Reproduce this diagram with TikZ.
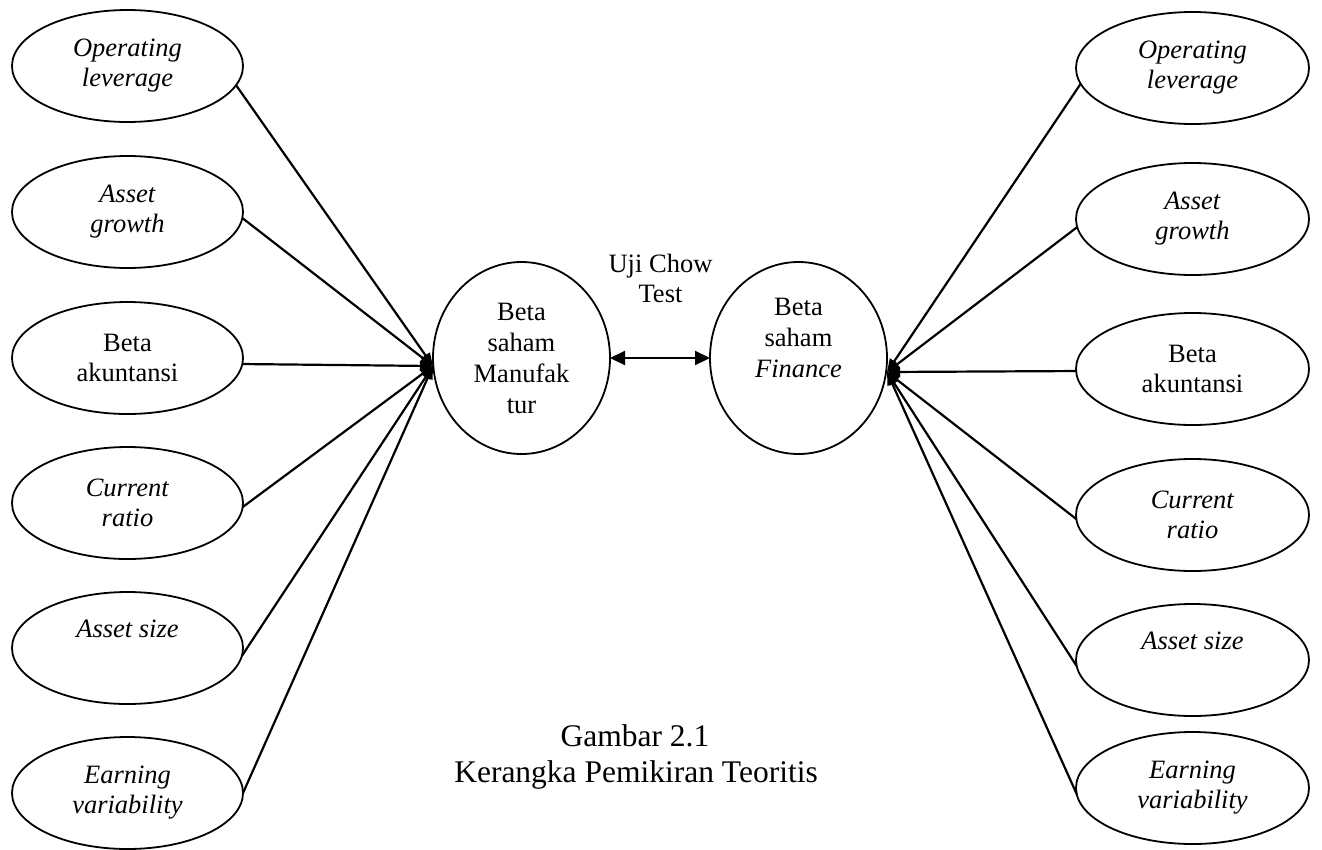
\documentclass[tikz,border=0pt]{standalone}
\usepackage{fontspec}
\setmainfont{Liberation Serif}
\usetikzlibrary{shapes.geometric,arrows.meta}
\begin{document}
\begin{tikzpicture}[x=1pt,y=-1pt,
  every node/.style={inner sep=0pt,outer sep=0pt},
  var/.style={draw,line width=1.8pt,ellipse,minimum width=231pt,minimum height=112pt,align=center,font=\fontsize{26.5}{30}\selectfont},
  mid/.style={draw,line width=1.8pt,ellipse,minimum width=177pt,minimum height=192pt,align=center,font=\fontsize{26.5}{31}\selectfont},
  lbl/.style={align=center,font=\fontsize{26.5}{30}\selectfont},
  conn/.style={line width=2.2pt,-{Triangle[length=13pt,width=10pt]}},
  dbl/.style={line width=2.2pt,{Triangle[length=15pt,width=14pt]}-{Triangle[length=15pt,width=14pt]}}]
\useasboundingbox (0,0) rectangle (1322,849);
% left column
\node[var] (lop) at (127.5,66) {\textit{Operating}\\\textit{leverage}};
\node[var] (lag) at (127.5,212) {\textit{Asset}\\\textit{growth}};
\node[var] (lba) at (127.5,358) {Beta\\akuntansi};
\node[var] (lcr) at (127.5,503) {\textit{Current}\\\textit{ratio}};
\node[var] (las) at (127.5,648) {\textit{Asset size}\\\strut};
\node[var] (lev) at (127.5,793) {\textit{Earning}\\\textit{variability}};
% right column
\node[var,minimum width=233pt] (rop) at (1192.5,68) {\textit{Operating}\\\textit{leverage}};
\node[var,minimum width=233pt] (rag) at (1192.5,219) {\textit{Asset}\\\textit{growth}};
\node[var,minimum width=233pt] (rba) at (1192.5,369) {Beta\\akuntansi};
\node[var,minimum width=233pt] (rcr) at (1192.5,515) {\textit{Current}\\\textit{ratio}};
\node[var,minimum width=233pt] (ras) at (1192.5,660) {\textit{Asset size}\\\strut};
\node[var,minimum width=233pt] (rev) at (1192.5,788) {\textit{Earning}\\\textit{variability}};
% centre
\node[mid] (man) at (521.5,358) {Beta\\saham\\Manufak\\tur};
\node[mid] (fin) at (798.5,358) {Beta\\saham\\\textit{Finance}\\\strut};
\node[lbl] (chow) at (660.5,278) {Uji Chow\\Test};
\node[font=\fontsize{31.5}{39}\selectfont] (gam) at (635,736) {Gambar 2.1};
\node[font=\fontsize{31.5}{39}\selectfont] (ker) at (636,775) {Kerangka Pemikiran Teoritis};
\coordinate (cm) at (433,366);
\coordinate (cf) at (887,372);
% connectors
\draw[conn] (lop.-10) -- (cm);
\draw[conn] (lag.-3) -- (cm);
\draw[conn] (lba.-3) -- (cm);
\draw[conn] (lcr.-2.5) -- (cm);
\draw[conn] (las.-4.5) -- (cm);
\draw[conn] (lev.0) -- (cm);
\draw[conn] (rop.188) -- (cf);
\draw[conn] (rag.184) -- (cf);
\draw[conn] (rba.181) -- (cf);
\draw[conn] (rcr.182) -- (cf);
\draw[conn] (ras.183) -- (cf);
\draw[conn] (rev.183) -- (cf);
\draw[dbl] (man.east) -- (fin.west);
\end{tikzpicture}
\end{document}
